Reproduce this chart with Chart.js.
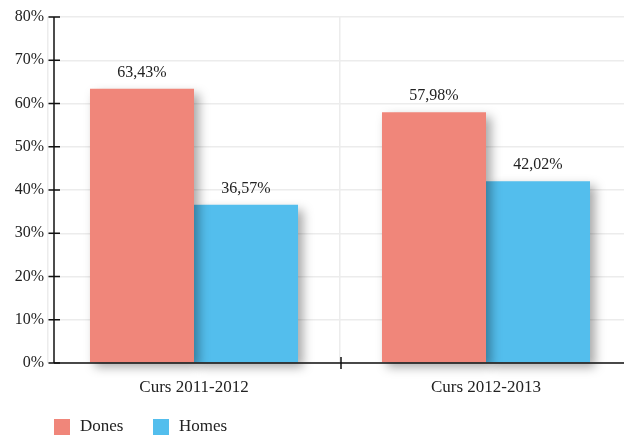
<!DOCTYPE html>
<html><head><meta charset="utf-8">
<script src="https://cdn.jsdelivr.net/npm/chart.js@4/dist/chart.umd.min.js"></script>
<style>html,body{margin:0;padding:0;background:#fff;overflow:hidden;width:624px;height:437px}canvas{display:block}</style>
</head><body>
<canvas id="c" width="632" height="437"></canvas>
<script>
const categories = ["Curs 2011-2012", "Curs 2012-2013"];
const dones = [63.43, 57.98];
const homes = [36.57, 42.02];
const seriesNames = ["Dones", "Homes"];
const yTicks = [0, 10, 20, 30, 40, 50, 60, 70, 80];

const FONT = "'Liberation Serif', 'Times New Roman', serif";
const colors = ["rgb(240,134,122)", "rgb(83,190,237)"];
const fmt = v => v.toFixed(2).replace('.', ',') + '%';
const AXIS_X = 54;

const shadowPlugin = {
  id: 'shadow',
  beforeDatasetsDraw(chart) {
    const ctx = chart.ctx; ctx.save();
    ctx.shadowColor = 'rgba(0,0,0,0.35)';
    ctx.shadowBlur = 10; ctx.shadowOffsetX = 5; ctx.shadowOffsetY = 5;
  },
  afterDatasetsDraw(chart) {
    const ctx = chart.ctx; ctx.restore();
    ctx.save();
    ctx.font = "16px " + FONT; ctx.fillStyle = '#222';
    ctx.textAlign = 'center'; ctx.textBaseline = 'alphabetic';
    chart.data.datasets.forEach((ds, i) => {
      chart.getDatasetMeta(i).data.forEach((bar, j) => {
        ctx.fillText(fmt(ds.data[j]), bar.x, bar.y - 12);
      });
    });
    ctx.restore();
  },
  afterDraw(chart) {
    const ctx = chart.ctx, ca = chart.chartArea;
    const ys = chart.scales.y, xs = chart.scales.x;
    ctx.save();
    ctx.strokeStyle = '#111'; ctx.lineWidth = 1.5;
    ctx.beginPath(); ctx.moveTo(AXIS_X, ca.top); ctx.lineTo(AXIS_X, ca.bottom); ctx.stroke();
    yTicks.forEach(t => {
      const y = ys.getPixelForValue(t);
      ctx.beginPath(); ctx.moveTo(AXIS_X - 5.5, y); ctx.lineTo(AXIS_X + 6, y); ctx.stroke();
    });
    ctx.beginPath(); ctx.moveTo(AXIS_X, ca.bottom); ctx.lineTo(ca.right, ca.bottom); ctx.stroke();
    for (let i = 1; i < categories.length; i++) {
      const x = (xs.getPixelForValue(i - 1) + xs.getPixelForValue(i)) / 2 + 1;
      ctx.beginPath(); ctx.moveTo(x, ca.bottom - 6); ctx.lineTo(x, ca.bottom + 6); ctx.stroke();
    }
    ctx.font = "17px " + FONT; ctx.textBaseline = 'middle'; ctx.textAlign = 'left';
    let lx = 54; const ly = 427;
    chart.data.datasets.forEach((ds, i) => {
      ctx.fillStyle = colors[i];
      ctx.fillRect(lx, ly - 8, 16, 16);
      ctx.fillStyle = '#222';
      ctx.fillText(ds.label, lx + 26, ly);
      lx += 99;
    });
    ctx.restore();
  }
};

new Chart(document.getElementById('c'), {
  type: 'bar',
  data: {
    labels: categories,
    datasets: [
      { label: seriesNames[0], data: dones, backgroundColor: colors[0], clip: false },
      { label: seriesNames[1], data: homes, backgroundColor: colors[1], clip: false }
    ]
  },
  options: {
    responsive: false, animation: false, devicePixelRatio: 1,
    categoryPercentage: 0.7125, barPercentage: 1,
    layout: { padding: { top: 17, right: 0, left: 0, bottom: 33 } },
    plugins: { legend: { display: false }, tooltip: { enabled: false } },
    scales: {
      x: {
        grid: { color: '#ececec', lineWidth: 1.5, drawTicks: false, offset: true },
        border: { display: false },
        ticks: { font: { family: FONT, size: 17 }, color: '#222', padding: 14 },
        afterFit(s) { s.height = 41; }
      },
      y: {
        min: 0, max: 80,
        grid: { color: '#ececec', lineWidth: 1.5, drawTicks: false },
        border: { display: false },
        ticks: { stepSize: 10, font: { family: FONT, size: 16 }, color: '#222', padding: 4,
                 callback: v => v + '%' },
        afterFit(s) { s.width = 48; }
      }
    }
  },
  plugins: [shadowPlugin]
});
</script>
</body></html>
